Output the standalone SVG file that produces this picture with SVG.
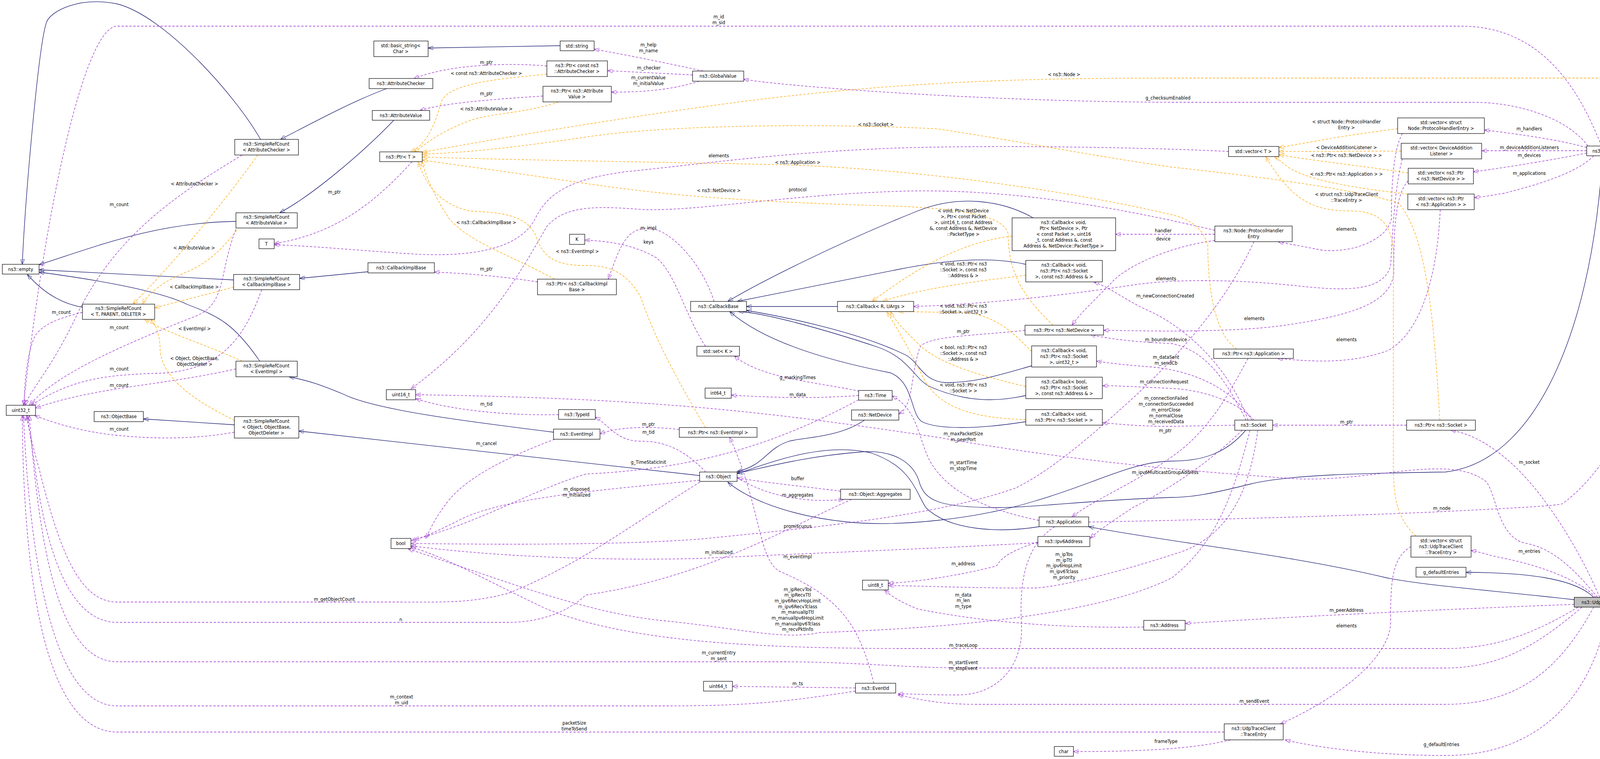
<svg xmlns="http://www.w3.org/2000/svg" width="4445" height="1944" viewBox="0 0 4445 1944">
<style>
text{font-family:"DejaVu Sans Condensed","DejaVu Sans",sans-serif;font-size:12.5px;fill:#000}
.n rect{fill:#fff;stroke:#000;stroke-width:1.2}
.n text{text-anchor:middle}
.l{text-anchor:middle}
path{fill:none}
.inh{stroke:#191970;stroke-width:1.3;marker-end:url(#ab)}
.use{stroke:#9a32cd;stroke-width:1.3;stroke-dasharray:6,4;marker-end:url(#ap)}
.tpl{stroke:#ffa500;stroke-width:1.3;stroke-dasharray:6,4;marker-end:url(#ao)}
</style>
<defs>
<marker id="ab" markerUnits="userSpaceOnUse" markerWidth="14" markerHeight="10" refX="13" refY="5" orient="auto"><path d="M0,0 L13,5 L0,10 z" fill="#191970" stroke="#191970"/></marker>
<marker id="ap" markerUnits="userSpaceOnUse" markerWidth="14" markerHeight="10" refX="13" refY="5" orient="auto"><path d="M0,0 L13,5 L0,10 z" fill="#9a32cd" stroke="#9a32cd"/></marker>
<marker id="ao" markerUnits="userSpaceOnUse" markerWidth="14" markerHeight="10" refX="13" refY="5" orient="auto"><path d="M0,0 L13,5 L0,10 z" fill="#ffa500" stroke="#ffa500"/></marker>
</defs>
<rect width="4445" height="1944" fill="#fff"/>
<g id="connectors">
<path class="inh" d="M667,357 C600,240 420,40 300,10 C200,-10 130,30 120,55 C100,100 65,500 57,677"/>
<path class="inh" d="M990,227 C900,260 790,320 718,357"/>
<path class="inh" d="M1008,308 C930,390 800,500 716,545"/>
<path class="inh" d="M604,567 C400,570 250,630 100,678"/>
<path class="inh" d="M598,717 L100,691"/>
<path class="inh" d="M942,696 L767,713"/>
<path class="inh" d="M211,787 C170,780 120,760 70,703"/>
<path class="inh" d="M665,925 C600,830 560,810 480,780 C400,740 200,710 100,697"/>
<path class="inh" d="M1417,1107 C1200,1080 960,1050 880,1010 C820,985 790,975 740,965"/>
<path class="inh" d="M600,1088 L367,1073"/>
<path class="inh" d="M1791,1218 L765,1104"/>
<path class="inh" d="M1434,117 L1096,123"/>
<path class="inh" d="M2645,558 C2560,510 2450,500 2350,540 C2150,620 1950,720 1863,772"/>
<path class="inh" d="M2626,677 C2550,660 2450,660 2300,690 C2150,720 2000,750 1887,772"/>
<path class="inh" d="M2144,785 L1911,785"/>
<path class="inh" d="M2641,937 C2560,960 2500,980 2420,980 C2360,975 2355,930 2320,910 C2200,850 2000,810 1911,795"/>
<path class="inh" d="M2626,1013 C2550,1030 2470,1030 2380,990 C2340,970 2330,920 2250,890 C2100,840 1950,800 1890,798"/>
<path class="inh" d="M2626,1080 C2500,1100 2400,1100 2360,1080 C2330,1060 2340,980 2280,955 C2100,920 1950,870 1868,798"/>
<path class="inh" d="M2213,1076 C2150,1120 2060,1120 2020,1130 C1960,1150 1960,1190 1887,1208"/>
<path class="inh" d="M2660,1349 C2560,1365 2430,1360 2370,1300 C2340,1250 2330,1195 2230,1160 C2100,1130 1960,1190 1887,1213"/>
<path class="inh" d="M3189,1102 C3140,1160 3080,1181 3000,1181 C2900,1181 2800,1240 2650,1283 C2500,1330 2300,1350 2170,1337 C2050,1325 1930,1290 1863,1235"/>
<path class="inh" d="M4102,399 C4080,800 3950,1180 3700,1209 C3500,1212 3300,1215 3200,1240 C3100,1265 3050,1274 3000,1274 C2800,1280 2650,1300 2550,1300 C2400,1300 2370,1280 2355,1240 C2340,1180 2280,1150 2200,1158 C2050,1170 1950,1200 1887,1212"/>
<path class="inh" d="M4030,1536 C3800,1510 3650,1500 3550,1480 C3300,1420 3000,1390 2787,1349"/>
<path class="inh" d="M4080,1530 C4030,1480 3900,1466 3753,1466"/>

<path class="use" d="M620,397 C450,500 300,600 200,800 C130,950 75,1000 65,1038"/>
<path class="use" d="M604,587 C560,700 580,780 500,810 C350,870 150,950 75,1038"/>
<path class="use" d="M211,800 C150,815 110,830 90,860 C70,900 62,980 62,1038"/>
<path class="use" d="M670,742 C620,880 560,940 430,955 C300,960 200,960 80,1038"/>
<path class="use" d="M604,945 C400,990 250,990 91,1045"/>
<path class="use" d="M600,1107 C500,1125 400,1125 300,1115 C200,1105 130,1080 88,1064"/>
<path class="use" d="M4100,374 C4050,250 3960,67 3740,67 L300,67 C220,67 120,500 60,1038"/>
<path class="use" d="M1800,1230 C1650,1320 1500,1440 1300,1520 C1200,1545 1150,1542 1000,1542 L300,1542 C200,1542 150,1400 100,1200 C80,1130 70,1080 68,1064"/>
<path class="use" d="M2180,1279 C2000,1360 1800,1480 1500,1524 C1450,1570 1380,1594 1300,1594 L300,1594 C180,1594 120,1420 90,1200 C80,1130 72,1080 70,1064"/>
<path class="use" d="M4050,1555 C3950,1640 3850,1711 3700,1711 L2500,1711 C2300,1711 2200,1695 2000,1695 L300,1695 C150,1695 100,1400 75,1064"/>
<path class="use" d="M2190,1770 C2000,1800 1900,1808 1700,1808 L300,1808 C150,1808 80,1500 60,1064"/>
<path class="use" d="M3134,1875 L300,1875 C120,1875 60,1500 57,1064"/>
<path class="use" d="M1420,1125 C1300,1170 1200,1220 1150,1280 C1110,1330 1100,1360 1090,1379"/>
<path class="use" d="M1791,1230 C1600,1250 1300,1270 1180,1330 C1130,1355 1100,1370 1060,1383"/>
<path class="use" d="M2198,1024 C2000,1130 1800,1200 1500,1214 C1350,1260 1250,1330 1052,1385"/>
<path class="use" d="M2657,1390 C2400,1405 2000,1420 1800,1430 C1600,1436 1300,1430 1052,1398"/>
<path class="use" d="M3210,619 C3150,750 3050,880 2900,1020 C2800,1110 2700,1200 2600,1250 C2400,1320 2100,1350 1800,1380 C1600,1396 1300,1395 1052,1392"/>
<path class="use" d="M3200,1102 C3150,1300 3100,1400 3000,1480 C2800,1580 2400,1610 2100,1620 C2000,1640 1900,1610 1700,1590 C1500,1570 1300,1490 1045,1406"/>
<path class="use" d="M4040,1555 C3900,1640 3800,1661 3700,1661 L2300,1661 C1900,1660 1600,1640 1400,1560 C1250,1490 1150,1430 1052,1401"/>
<path class="use" d="M1430,1062 C1300,1065 1150,1050 1064,1021"/>
<path class="use" d="M4090,1530 C4000,1420 3950,1400 3900,1390 C3830,1370 3830,1250 3800,1230 C3700,1160 3500,1240 3300,1225 C3100,1210 2800,1190 2400,1120 C2000,1060 1700,1020 1064,1011"/>
<path class="use" d="M3110,590 C2900,540 2600,480 2300,490 C2000,500 1800,540 1650,537 C1550,530 1450,520 1400,580 C1330,700 1250,850 1052,996"/>
<path class="use" d="M1055,414 C950,530 850,600 702,624"/>
<path class="use" d="M3145,388 C3000,380 2600,370 2300,379 C2000,390 1800,420 1600,440 C1450,460 1400,500 1370,560 C1330,640 1200,660 1050,650 C900,640 800,630 702,627"/>
<path class="use" d="M1806,887 C1750,800 1730,700 1680,660 C1620,625 1550,617 1497,615"/>
<path class="use" d="M1828,772 C1800,680 1720,590 1665,585 C1600,580 1585,640 1557,715"/>
<path class="use" d="M1376,722 C1300,710 1200,700 1112,697"/>
<path class="use" d="M1400,169 C1300,160 1150,165 1060,201"/>
<path class="use" d="M1390,246 C1250,255 1130,265 1075,283"/>
<path class="use" d="M1800,182 C1700,160 1600,140 1521,126"/>
<path class="use" d="M1773,192 L1555,181"/>
<path class="use" d="M1790,208 C1720,230 1650,236 1565,236"/>
<path class="use" d="M4065,374 C4020,310 3900,262 3770,262 L3000,262 C2500,260 2000,220 1904,203"/>
<path class="use" d="M2200,1002 C2100,980 1950,970 1880,912"/>
<path class="use" d="M2198,1013 C2100,1020 2000,1020 1872,1012"/>
<path class="use" d="M2190,1762 L1875,1758"/>
<path class="use" d="M2660,1333 C2500,1300 2420,1250 2380,1180 C2350,1120 2350,1050 2284,1014"/>
<path class="use" d="M2624,846 C2500,860 2370,860 2355,890 C2330,960 2340,1040 2301,1060"/>
<path class="use" d="M3110,616 C3000,630 2880,680 2840,730 C2780,790 2760,810 2744,833"/>
<path class="use" d="M3190,1076 C3150,1000 3100,900 3000,880 C2900,875 2850,870 2791,857"/>
<path class="use" d="M3110,600 L2856,600"/>
<path class="use" d="M3195,1076 C3150,950 3050,850 2950,800 C2880,770 2850,740 2800,722"/>
<path class="use" d="M3590,407 C3570,480 3565,600 3560,680 C3540,760 3400,740 3300,730 C3150,715 3000,715 2900,730 C2700,760 2500,780 2339,785"/>
<path class="use" d="M3590,342 C3570,380 3562,450 3562,560 C3550,620 3450,650 3380,640 C3330,630 3300,625 3272,619"/>
<path class="use" d="M3605,463 C3570,500 3568,600 3568,700 C3560,780 3450,810 3276,835 C3150,850 3000,849 2825,846"/>
<path class="use" d="M3687,537 C3680,700 3640,850 3553,898 C3450,935 3350,925 3270,918"/>
<path class="use" d="M3205,1076 C3150,990 3050,950 2950,940 C2880,935 2840,930 2807,925"/>
<path class="use" d="M3210,1076 C3180,1040 3100,1000 3000,995 C2900,990 2860,988 2822,988"/>
<path class="use" d="M3161,1089 L3000,1092 C2900,1092 2860,1085 2822,1083"/>
<path class="use" d="M3195,918 C3150,1000 3100,1100 3000,1170 C2900,1240 2800,1280 2744,1324"/>
<path class="use" d="M3601,1089 L3258,1089"/>
<path class="use" d="M4095,1530 C4050,1420 3950,1250 3850,1170 C3800,1130 3760,1110 3714,1102"/>
<path class="use" d="M2787,1337 C3000,1334 3500,1320 3700,1310 C3900,1300 3990,1295 4000,1290 C4150,1180 4280,900 4355,399"/>
<path class="use" d="M4273,386 L4149,386"/>
<path class="use" d="M4062,378 C4000,360 3900,345 3800,333"/>
<path class="use" d="M4062,386 L3793,386"/>
<path class="use" d="M4062,392 C4000,405 3850,430 3772,440"/>
<path class="use" d="M4080,399 C4040,440 3950,470 3850,495 C3810,502 3790,505 3774,506"/>
<path class="use" d="M4085,1530 C4050,1490 3950,1450 3850,1430 C3810,1422 3790,1414 3766,1410"/>
<path class="use" d="M4030,1548 C3700,1560 3300,1580 3034,1597"/>
<path class="use" d="M2657,1388 C2560,1420 2560,1440 2550,1450 C2450,1475 2350,1490 2274,1494"/>
<path class="use" d="M3220,1102 C3200,1250 3150,1380 3000,1421 C2850,1470 2700,1505 2648,1506 C2500,1507 2350,1500 2274,1500"/>
<path class="use" d="M2928,1606 C2700,1610 2500,1590 2350,1560 C2300,1540 2280,1525 2264,1511"/>
<path class="use" d="M3180,1102 C3100,1180 3000,1250 2900,1300 C2840,1340 2810,1360 2791,1379"/>
<path class="use" d="M2700,1349 C2620,1400 2610,1500 2615,1600 C2620,1700 2560,1780 2450,1780 C2380,1780 2330,1777 2299,1777"/>
<path class="use" d="M4080,1555 C4000,1700 3900,1804 3700,1804 L2500,1804 C2400,1804 2350,1790 2299,1780"/>
<path class="use" d="M1887,1222 C1950,1265 2050,1290 2160,1279"/>
<path class="use" d="M2152,1258 C2050,1245 1950,1235 1887,1224"/>
<path class="use" d="M1739,1100 C1650,1090 1580,1095 1536,1111"/>
<path class="use" d="M1807,1209 C1750,1150 1700,1130 1640,1130 C1580,1130 1560,1090 1524,1068"/>
<path class="use" d="M2237,1750 C2200,1600 2150,1530 2000,1465 C1940,1440 1950,1300 1868,1120"/>
<path class="use" d="M3612,1400 C3560,1430 3560,1500 3560,1600 C3550,1700 3400,1800 3278,1854"/>
<path class="use" d="M4115,1555 C4100,1700 4000,1935 3700,1935 C3500,1935 3350,1910 3290,1895"/>
<path class="use" d="M3150,1895 C3050,1920 2900,1925 2748,1925"/>

<path class="tpl" d="M660,397 C550,550 420,700 340,779"/>
<path class="tpl" d="M606,590 C560,650 520,680 470,700 C420,720 380,750 365,779"/>
<path class="tpl" d="M598,735 C530,755 460,770 396,789"/>
<path class="tpl" d="M620,925 C520,880 420,850 370,818"/>
<path class="tpl" d="M600,1077 C550,1050 420,990 410,900 C410,860 400,830 385,818"/>
<path class="tpl" d="M1400,190 C1300,200 1150,210 1130,260 C1110,330 1090,370 1052,389"/>
<path class="tpl" d="M1430,261 C1350,290 1250,290 1200,310 C1120,340 1090,370 1060,389"/>
<path class="tpl" d="M4390,374 C4340,280 4280,200 4100,200 L3000,200 C2600,200 2300,210 1900,260 C1600,300 1300,350 1081,390"/>
<path class="tpl" d="M3686,1076 C3670,800 3650,600 3580,520 C3450,480 3200,450 3000,428 C2800,400 2600,360 2400,330 C2100,315 1700,320 1500,351 C1300,380 1200,390 1081,395"/>
<path class="tpl" d="M3166,894 C3100,850 3092,700 3092,630 C3080,580 3040,560 3000,550 C2700,480 2300,430 2000,422 C1700,415 1300,410 1081,402"/>
<path class="tpl" d="M2696,833 C2620,760 2581,700 2581,600 C2570,540 2400,530 2200,525 C1900,515 1700,500 1500,470 C1300,440 1150,420 1081,410"/>
<path class="tpl" d="M1420,715 C1300,650 1200,620 1150,560 C1110,500 1090,450 1080,414"/>
<path class="tpl" d="M1806,1095 C1750,1000 1680,880 1640,760 C1600,690 1550,680 1500,680 C1420,680 1390,660 1370,600 C1340,540 1250,545 1200,540 C1120,520 1090,470 1070,414"/>
<path class="tpl" d="M3578,330 C3450,345 3350,365 3274,378"/>
<path class="tpl" d="M3587,387 L3274,388"/>
<path class="tpl" d="M3605,443 C3450,420 3350,410 3274,396"/>
<path class="tpl" d="M3604,497 C3450,480 3350,460 3300,430 C3280,415 3270,405 3262,401"/>
<path class="tpl" d="M3625,1373 C3590,1340 3567,1300 3567,1200 L3567,640 C3560,560 3520,540 3450,540 C3350,540 3300,500 3240,401"/>
<path class="tpl" d="M2591,605 C2450,620 2330,700 2232,772"/>
<path class="tpl" d="M2626,705 C2500,720 2350,740 2260,772"/>
<path class="tpl" d="M2641,900 C2600,860 2550,800 2450,800 C2380,800 2340,798 2300,798"/>
<path class="tpl" d="M2626,990 C2500,960 2400,930 2350,880 C2310,840 2290,820 2280,798"/>
<path class="tpl" d="M2626,1075 C2500,1070 2400,1050 2360,960 C2320,880 2290,830 2270,798"/>
</g>
<g id="labels">
<text class="l" x="305" y="528">m_count</text>
<text class="l" x="498" y="475">&lt; AttributeChecker &gt;</text>
<text class="l" x="497" y="639">&lt; AttributeValue &gt;</text>
<text class="l" x="497" y="739">&lt; CallbackImplBase &gt;</text>
<text class="l" x="157" y="804">m_count</text>
<text class="l" x="305" y="843">m_count</text>
<text class="l" x="498" y="846">&lt; EventImpl &gt;</text>
<text class="l" x="498" y="922">&lt; Object, ObjectBase,</text>
<text class="l" x="498" y="937">ObjectDeleter &gt;</text>
<text class="l" x="305" y="949">m_count</text>
<text class="l" x="305" y="991">m_count</text>
<text class="l" x="305" y="1103">m_count</text>
<text class="l" x="1245" y="164">m_ptr</text>
<text class="l" x="1245" y="192">&lt; const ns3::AttributeChecker &gt;</text>
<text class="l" x="1245" y="244">m_ptr</text>
<text class="l" x="1245" y="283">&lt; ns3::AttributeValue &gt;</text>
<text class="l" x="856" y="496">m_ptr</text>
<text class="l" x="1245" y="574">&lt; ns3::CallbackImplBase &gt;</text>
<text class="l" x="1245" y="693">m_ptr</text>
<text class="l" x="1245" y="1039">m_tid</text>
<text class="l" x="1478" y="648">&lt; ns3::EventImpl &gt;</text>
<text class="l" x="1840" y="47">m_id</text>
<text class="l" x="1840" y="62">m_sid</text>
<text class="l" x="1660" y="119">m_help</text>
<text class="l" x="1660" y="134">m_name</text>
<text class="l" x="1661" y="178">m_checker</text>
<text class="l" x="1660" y="203">m_currentValue</text>
<text class="l" x="1660" y="218">m_initialValue</text>
<text class="l" x="2724" y="195">&lt; ns3::Node &gt;</text>
<text class="l" x="2990" y="255">g_checksumEnabled</text>
<text class="l" x="2242" y="323">&lt; ns3::Socket &gt;</text>
<text class="l" x="1840" y="403">elements</text>
<text class="l" x="2042" y="420">&lt; ns3::Application &gt;</text>
<text class="l" x="1840" y="492">&lt; ns3::NetDevice &gt;</text>
<text class="l" x="2042" y="490">protocol</text>
<text class="l" x="2466" y="544">&lt; void, Ptr&lt; NetDevice</text>
<text class="l" x="2466" y="559">&gt;, Ptr&lt; const Packet</text>
<text class="l" x="2466" y="574">&gt;, uint16_t, const Address</text>
<text class="l" x="2466" y="589">&amp;, const Address &amp;, NetDevice</text>
<text class="l" x="2466" y="604">::PacketType &gt;</text>
<text class="l" x="1660" y="588">m_impl</text>
<text class="l" x="1660" y="624">keys</text>
<text class="l" x="2978" y="595">handler</text>
<text class="l" x="2978" y="616">device</text>
<text class="l" x="2466" y="680">&lt; void, ns3::Ptr&lt; ns3</text>
<text class="l" x="2466" y="695">::Socket &gt;, const ns3</text>
<text class="l" x="2466" y="710">::Address &amp; &gt;</text>
<text class="l" x="2985" y="718">elements</text>
<text class="l" x="2983" y="762">m_newConnectionCreated</text>
<text class="l" x="2466" y="788">&lt; void, ns3::Ptr&lt; ns3</text>
<text class="l" x="2466" y="803">::Socket &gt;, uint32_t &gt;</text>
<text class="l" x="2466" y="853">m_ptr</text>
<text class="l" x="2985" y="874">m_boundnetdevice</text>
<text class="l" x="2466" y="894">&lt; bool, ns3::Ptr&lt; ns3</text>
<text class="l" x="2466" y="909">::Socket &gt;, const ns3</text>
<text class="l" x="2466" y="924">::Address &amp; &gt;</text>
<text class="l" x="2985" y="919">m_dataSent</text>
<text class="l" x="2985" y="934">m_sendCb</text>
<text class="l" x="2042" y="971">g_markingTimes</text>
<text class="l" x="2980" y="982">m_connectionRequest</text>
<text class="l" x="2466" y="990">&lt; void, ns3::Ptr&lt; ns3</text>
<text class="l" x="2466" y="1005">::Socket &gt; &gt;</text>
<text class="l" x="2042" y="1015">m_data</text>
<text class="l" x="2985" y="1024">m_connectionFailed</text>
<text class="l" x="2985" y="1039">m_connectionSucceeded</text>
<text class="l" x="2985" y="1054">m_errorClose</text>
<text class="l" x="2985" y="1069">m_normalClose</text>
<text class="l" x="2985" y="1084">m_receivedData</text>
<text class="l" x="2983" y="1107">m_ptr</text>
<text class="l" x="1660" y="1091">m_ptr</text>
<text class="l" x="1660" y="1111">m_tid</text>
<text class="l" x="2466" y="1115">m_maxPacketSize</text>
<text class="l" x="2466" y="1130">m_peerPort</text>
<text class="l" x="1245" y="1140">m_cancel</text>
<text class="l" x="1660" y="1188">g_TimeStaticInit</text>
<text class="l" x="2466" y="1189">m_startTime</text>
<text class="l" x="2466" y="1204">m_stopTime</text>
<text class="l" x="2042" y="1230">buffer</text>
<text class="l" x="2983" y="1214">m_ipv6MulticastGroupAddress</text>
<text class="l" x="1476" y="1257">m_disposed</text>
<text class="l" x="1476" y="1272">m_initialized</text>
<text class="l" x="2042" y="1272">m_aggregates</text>
<text class="l" x="2042" y="1352">promiscuous</text>
<text class="l" x="1840" y="1419">m_initialized</text>
<text class="l" x="2042" y="1430">m_eventImpl</text>
<text class="l" x="2466" y="1448">m_address</text>
<text class="l" x="2724" y="1424">m_ipTos</text>
<text class="l" x="2724" y="1439">m_ipTtl</text>
<text class="l" x="2724" y="1453">m_ipv6HopLimit</text>
<text class="l" x="2724" y="1468">m_ipv6Tclass</text>
<text class="l" x="2724" y="1483">m_priority</text>
<text class="l" x="2042" y="1514">m_ipRecvTos</text>
<text class="l" x="2042" y="1528">m_ipRecvTtl</text>
<text class="l" x="2042" y="1543">m_ipv6RecvHopLimit</text>
<text class="l" x="2042" y="1558">m_ipv6RecvTclass</text>
<text class="l" x="2042" y="1572">m_manualIpTtl</text>
<text class="l" x="2042" y="1587">m_manualIpv6HopLimit</text>
<text class="l" x="2042" y="1602">m_manualIpv6Tclass</text>
<text class="l" x="2042" y="1616">m_recvPktInfo</text>
<text class="l" x="2466" y="1528">m_data</text>
<text class="l" x="2466" y="1542">m_len</text>
<text class="l" x="2466" y="1557">m_type</text>
<text class="l" x="856" y="1539">m_getObjectCount</text>
<text class="l" x="1026" y="1591">n</text>
<text class="l" x="2466" y="1657">m_traceLoop</text>
<text class="l" x="1840" y="1676">m_currentEntry</text>
<text class="l" x="1840" y="1691">m_sent</text>
<text class="l" x="2466" y="1701">m_startEvent</text>
<text class="l" x="2466" y="1716">m_stopEvent</text>
<text class="l" x="2042" y="1755">m_ts</text>
<text class="l" x="1028" y="1789">m_context</text>
<text class="l" x="1028" y="1804">m_uid</text>
<text class="l" x="1470" y="1856">packetSize</text>
<text class="l" x="1470" y="1871">timeToSend</text>
<text class="l" x="2985" y="1903">frameType</text>
<text class="l" x="3447" y="316">&lt; struct Node::ProtocolHandler</text>
<text class="l" x="3447" y="331">Entry &gt;</text>
<text class="l" x="3915" y="334">m_handlers</text>
<text class="l" x="3447" y="382">&lt; DeviceAdditionListener &gt;</text>
<text class="l" x="3915" y="382">m_deviceAdditionListeners</text>
<text class="l" x="3447" y="402">&lt; ns3::Ptr&lt; ns3::NetDevice &gt; &gt;</text>
<text class="l" x="3915" y="402">m_devices</text>
<text class="l" x="4228" y="382">m_ptr</text>
<text class="l" x="3447" y="450">&lt; ns3::Ptr&lt; ns3::Application &gt; &gt;</text>
<text class="l" x="3915" y="448">m_applications</text>
<text class="l" x="3447" y="502">&lt; struct ns3::UdpTraceClient</text>
<text class="l" x="3447" y="517">::TraceEntry &gt;</text>
<text class="l" x="3447" y="591">elements</text>
<text class="l" x="3211" y="820">elements</text>
<text class="l" x="3447" y="874">elements</text>
<text class="l" x="3447" y="1085">m_ptr</text>
<text class="l" x="3915" y="1188">m_socket</text>
<text class="l" x="3691" y="1306">m_node</text>
<text class="l" x="3915" y="1416">m_entries</text>
<text class="l" x="3447" y="1567">m_peerAddress</text>
<text class="l" x="3447" y="1607">elements</text>
<text class="l" x="3211" y="1800">m_sendEvent</text>
<text class="l" x="3690" y="1911">g_defaultEntries</text>
</g>
<g id="empty" class="n"><rect x="6" y="677" width="94" height="25"/><text x="53" y="694">ns3::empty</text></g>
<g id="uint32" class="n"><rect x="16" y="1038" width="75" height="26"/><text x="53" y="1055">uint32_t</text></g>
<g id="basicstr" class="n"><rect x="957" y="105" width="139" height="40"/><text x="1026" y="121">std::basic_string&lt;</text><text x="1026" y="136">Char &gt;</text></g>
<g id="attrChecker" class="n"><rect x="945" y="201" width="163" height="26"/><text x="1026" y="218">ns3::AttributeChecker</text></g>
<g id="attrValue" class="n"><rect x="953" y="283" width="147" height="25"/><text x="1026" y="300">ns3::AttributeValue</text></g>
<g id="srcAC" class="n"><rect x="601" y="357" width="163" height="40"/><text x="682" y="373">ns3::SimpleRefCount</text><text x="682" y="388">&lt; AttributeChecker &gt;</text></g>
<g id="ptrT" class="n"><rect x="972" y="389" width="109" height="25"/><text x="1026" y="406">ns3::Ptr&lt; T &gt;</text></g>
<g id="srcAV" class="n"><rect x="604" y="545" width="157" height="39"/><text x="682" y="560">ns3::SimpleRefCount</text><text x="682" y="575">&lt; AttributeValue &gt;</text></g>
<g id="T" class="n"><rect x="663" y="612" width="39" height="25"/><text x="682" y="629">T</text></g>
<g id="cbImplBase" class="n"><rect x="942" y="673" width="170" height="26"/><text x="1027" y="690">ns3::CallbackImplBase</text></g>
<g id="srcCB" class="n"><rect x="598" y="703" width="169" height="39"/><text x="682" y="718">ns3::SimpleRefCount</text><text x="682" y="733">&lt; CallbackImplBase &gt;</text></g>
<g id="srcTPD" class="n"><rect x="211" y="779" width="185" height="39"/><text x="303" y="794">ns3::SimpleRefCount</text><text x="303" y="809">&lt; T, PARENT, DELETER &gt;</text></g>
<g id="srcEI" class="n"><rect x="604" y="925" width="157" height="40"/><text x="682" y="941">ns3::SimpleRefCount</text><text x="682" y="956">&lt; EventImpl &gt;</text></g>
<g id="uint16" class="n"><rect x="989" y="998" width="75" height="26"/><text x="1026" y="1015">uint16_t</text></g>
<g id="objectBase" class="n"><rect x="241" y="1054" width="126" height="26"/><text x="304" y="1071">ns3::ObjectBase</text></g>
<g id="srcObj" class="n"><rect x="600" y="1067" width="165" height="55"/><text x="682" y="1083">ns3::SimpleRefCount</text><text x="682" y="1098">&lt; Object, ObjectBase,</text><text x="682" y="1113">ObjectDeleter &gt;</text></g>
<g id="stdString" class="n"><rect x="1434" y="105" width="87" height="25"/><text x="1477" y="122">std::string</text></g>
<g id="ptrCAC" class="n"><rect x="1400" y="156" width="155" height="40"/><text x="1477" y="172">ns3::Ptr&lt; const ns3</text><text x="1477" y="187">::AttributeChecker &gt;</text></g>
<g id="ptrAV" class="n"><rect x="1390" y="221" width="175" height="40"/><text x="1477" y="237">ns3::Ptr&lt; ns3::Attribute</text><text x="1477" y="252">Value &gt;</text></g>
<g id="K" class="n"><rect x="1458" y="600" width="39" height="26"/><text x="1477" y="617">K</text></g>
<g id="ptrCB" class="n"><rect x="1376" y="715" width="202" height="40"/><text x="1477" y="731">ns3::Ptr&lt; ns3::CallbackImpl</text><text x="1477" y="746">Base &gt;</text></g>
<g id="typeId" class="n"><rect x="1430" y="1049" width="94" height="25"/><text x="1477" y="1066">ns3::TypeId</text></g>
<g id="eventImpl" class="n"><rect x="1417" y="1099" width="119" height="26"/><text x="1476" y="1116">ns3::EventImpl</text></g>
<g id="bool" class="n"><rect x="1001" y="1379" width="51" height="26"/><text x="1026" y="1396">bool</text></g>
<g id="globalValue" class="n"><rect x="1773" y="182" width="131" height="26"/><text x="1838" y="199">ns3::GlobalValue</text></g>
<g id="cbND" class="n"><rect x="2591" y="558" width="265" height="84"/><text x="2723" y="574">ns3::Callback&lt; void,</text><text x="2723" y="589">Ptr&lt; NetDevice &gt;, Ptr</text><text x="2723" y="604">&lt; const Packet &gt;, uint16</text><text x="2723" y="619">_t, const Address &amp;, const</text><text x="2723" y="634">Address &amp;, NetDevice::PacketType &gt;</text></g>
<g id="cbSA" class="n"><rect x="2626" y="667" width="196" height="55"/><text x="2724" y="683">ns3::Callback&lt; void,</text><text x="2724" y="698">ns3::Ptr&lt; ns3::Socket</text><text x="2724" y="713">&gt;, const ns3::Address &amp; &gt;</text></g>
<g id="cbBase" class="n"><rect x="1768" y="772" width="143" height="26"/><text x="1839" y="789">ns3::CallbackBase</text></g>
<g id="cbRU" class="n"><rect x="2144" y="772" width="195" height="26"/><text x="2241" y="789">ns3::Callback&lt; R, UArgs &gt;</text></g>
<g id="ptrND" class="n"><rect x="2624" y="833" width="201" height="25"/><text x="2724" y="850">ns3::Ptr&lt; ns3::NetDevice &gt;</text></g>
<g id="cbSU" class="n"><rect x="2641" y="886" width="166" height="54"/><text x="2724" y="902">ns3::Callback&lt; void,</text><text x="2724" y="917">ns3::Ptr&lt; ns3::Socket</text><text x="2724" y="932">&gt;, uint32_t &gt;</text></g>
<g id="cbBool" class="n"><rect x="2626" y="966" width="196" height="55"/><text x="2724" y="982">ns3::Callback&lt; bool,</text><text x="2724" y="997">ns3::Ptr&lt; ns3::Socket</text><text x="2724" y="1012">&gt;, const ns3::Address &amp; &gt;</text></g>
<g id="cbS" class="n"><rect x="2626" y="1049" width="196" height="40"/><text x="2724" y="1065">ns3::Callback&lt; void,</text><text x="2724" y="1080">ns3::Ptr&lt; ns3::Socket &gt; &gt;</text></g>
<g id="setK" class="n"><rect x="1784" y="887" width="109" height="25"/><text x="1838" y="904">std::set&lt; K &gt;</text></g>
<g id="int64" class="n"><rect x="1805" y="994" width="67" height="26"/><text x="1838" y="1011">int64_t</text></g>
<g id="time" class="n"><rect x="2198" y="1000" width="86" height="25"/><text x="2241" y="1017">ns3::Time</text></g>
<g id="netDevice" class="n"><rect x="2180" y="1050" width="121" height="26"/><text x="2240" y="1067">ns3::NetDevice</text></g>
<g id="vecT" class="n"><rect x="3145" y="375" width="129" height="26"/><text x="3209" y="392">std::vector&lt; T &gt;</text></g>
<g id="vecPHE" class="n"><rect x="3578" y="302" width="222" height="40"/><text x="3689" y="318">std::vector&lt; struct</text><text x="3689" y="333">Node::ProtocolHandlerEntry &gt;</text></g>
<g id="vecDAL" class="n"><rect x="3587" y="367" width="206" height="40"/><text x="3690" y="383">std::vector&lt; DeviceAddition</text><text x="3690" y="398">Listener &gt;</text></g>
<g id="vecND" class="n"><rect x="3605" y="431" width="167" height="40"/><text x="3688" y="447">std::vector&lt; ns3::Ptr</text><text x="3688" y="462">&lt; ns3::NetDevice &gt; &gt;</text></g>
<g id="vecApp" class="n"><rect x="3604" y="497" width="170" height="40"/><text x="3689" y="513">std::vector&lt; ns3::Ptr</text><text x="3689" y="528">&lt; ns3::Application &gt; &gt;</text></g>
<g id="node" class="n"><rect x="4062" y="374" width="87" height="25"/><text x="4105" y="391">ns3::Node</text></g>
<g id="ptrNode" class="n"><rect x="4273" y="374" width="167" height="25"/><text x="4356" y="391">ns3::Ptr&lt; ns3::Node &gt;</text></g>
<g id="phe" class="n"><rect x="3110" y="579" width="198" height="40"/><text x="3209" y="595">ns3::Node::ProtocolHandler</text><text x="3209" y="610">Entry</text></g>
<g id="ptrApp" class="n"><rect x="3107" y="894" width="204" height="24"/><text x="3209" y="910">ns3::Ptr&lt; ns3::Application &gt;</text></g>
<g id="socket" class="n"><rect x="3161" y="1076" width="97" height="26"/><text x="3209" y="1093">ns3::Socket</text></g>
<g id="ptrSocket" class="n"><rect x="3601" y="1076" width="176" height="26"/><text x="3689" y="1093">ns3::Ptr&lt; ns3::Socket &gt;</text></g>
<g id="vecTE" class="n"><rect x="3612" y="1373" width="154" height="54"/><text x="3689" y="1389">std::vector&lt; struct</text><text x="3689" y="1404">ns3::UdpTraceClient</text><text x="3689" y="1419">::TraceEntry &gt;</text></g>
<g id="gDefault" class="n"><rect x="3625" y="1453" width="128" height="25"/><text x="3689" y="1470">g_defaultEntries</text></g>
<g id="udp" class="n"><rect x="4030" y="1530" width="151" height="25" style="fill:#bfbfbf"/><text x="4105" y="1547">ns3::UdpTraceClient</text></g>
<g id="traceEntry" class="n"><rect x="3134" y="1854" width="151" height="41"/><text x="3209" y="1870">ns3::UdpTraceClient</text><text x="3209" y="1885">::TraceEntry</text></g>
<g id="object" class="n"><rect x="1791" y="1209" width="96" height="24"/><text x="1839" y="1225">ns3::Object</text></g>
<g id="ptrEI" class="n"><rect x="1739" y="1095" width="199" height="25"/><text x="1838" y="1112">ns3::Ptr&lt; ns3::EventImpl &gt;</text></g>
<g id="aggregates" class="n"><rect x="2152" y="1253" width="178" height="26"/><text x="2241" y="1270">ns3::Object::Aggregates</text></g>
<g id="application" class="n"><rect x="2660" y="1324" width="127" height="25"/><text x="2723" y="1341">ns3::Application</text></g>
<g id="ipv6" class="n"><rect x="2657" y="1374" width="133" height="26"/><text x="2723" y="1391">ns3::Ipv6Address</text></g>
<g id="uint8" class="n"><rect x="2208" y="1486" width="66" height="25"/><text x="2241" y="1503">uint8_t</text></g>
<g id="address" class="n"><rect x="2928" y="1589" width="106" height="25"/><text x="2981" y="1606">ns3::Address</text></g>
<g id="uint64" class="n"><rect x="1801" y="1745" width="74" height="25"/><text x="1838" y="1762">uint64_t</text></g>
<g id="eventId" class="n"><rect x="2190" y="1750" width="103" height="25"/><text x="2241" y="1767">ns3::EventId</text></g>
<g id="char" class="n"><rect x="2699" y="1912" width="49" height="25"/><text x="2723" y="1929">char</text></g>
</svg>
